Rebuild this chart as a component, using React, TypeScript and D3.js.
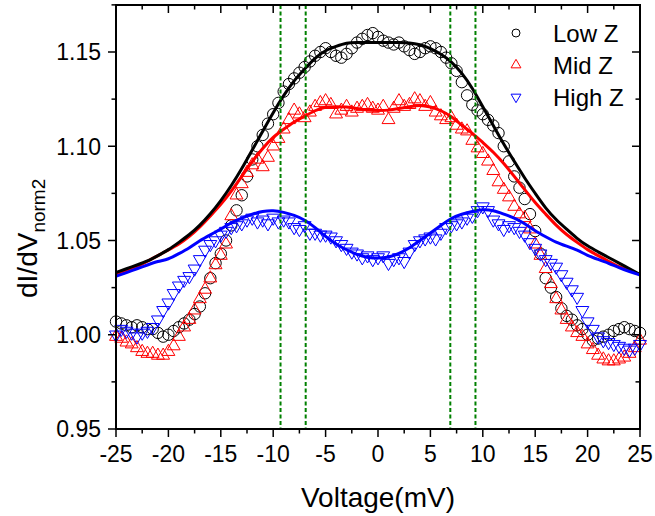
import React from 'react';
import * as d3 from 'd3';

// sample grid of the measured spectra (mV)
const voltages = [
  -25, -24.5, -24, -23.5, -23, -22.5, -22, -21.5, -21, -20.5, -20, -19.5, -19, -18.5, -18, -17.5, -17,
  -16.5, -16, -15.5, -15, -14.5, -14, -13.5, -13, -12.5, -12, -11.5, -11, -10.5, -10, -9.5, -9, -8.5,
  -8, -7.5, -7, -6.5, -6, -5.5, -5, -4.5, -4, -3.5, -3, -2.5, -2, -1.5, -1, -0.5, 0, 0.5, 1, 1.5, 2,
  2.5, 3, 3.5, 4, 4.5, 5, 5.5, 6, 6.5, 7, 7.5, 8, 8.5, 9, 9.5, 10, 10.5, 11, 11.5, 12, 12.5, 13, 13.5,
  14, 14.5, 15, 15.5, 16, 16.5, 17, 17.5, 18, 18.5, 19, 19.5, 20, 20.5, 21, 21.5, 22, 22.5, 23, 23.5,
  24, 24.5, 25,
];

const lowZ = [
  1.007, 1.006, 1.005, 1.004, 1.005, 1.004, 1.003, 1.003, 1.001, 0.999, 1.0, 1.002, 1.004, 1.006, 1.008,
  1.011, 1.015, 1.022, 1.03, 1.038, 1.043, 1.05, 1.058, 1.066, 1.074, 1.084, 1.093, 1.1, 1.106, 1.112,
  1.117, 1.123, 1.129, 1.133, 1.136, 1.139, 1.142, 1.145, 1.148, 1.15, 1.152, 1.15, 1.148, 1.147, 1.149,
  1.152, 1.155, 1.157, 1.159, 1.16, 1.158, 1.156, 1.155, 1.154, 1.155, 1.153, 1.151, 1.149, 1.15, 1.152,
  1.153, 1.152, 1.15, 1.147, 1.144, 1.14, 1.134, 1.127, 1.122, 1.119, 1.117, 1.114, 1.111, 1.107, 1.1,
  1.092, 1.084, 1.078, 1.072, 1.064, 1.055, 1.043, 1.03, 1.025, 1.02, 1.014, 1.01, 1.008, 1.005, 1.003,
  1.0, 0.997, 0.998, 0.999, 1.0, 1.002, 1.003, 1.004, 1.003, 1.002, 1.001,
];

const midZ = [
  0.999, 0.998, 0.996, 0.995, 0.993, 0.991, 0.99, 0.99, 0.989, 0.989, 0.991, 0.994, 0.999, 1.004, 1.008,
  1.013, 1.019, 1.024, 1.03, 1.037, 1.042, 1.048, 1.063, 1.074, 1.08, 1.086, 1.09, 1.093, 1.089, 1.094,
  1.1, 1.104, 1.109, 1.114, 1.119, 1.117, 1.115, 1.118, 1.121, 1.123, 1.124, 1.122, 1.117, 1.119, 1.121,
  1.118, 1.12, 1.121, 1.122, 1.12, 1.119, 1.121, 1.114, 1.12, 1.124, 1.121, 1.122, 1.125, 1.124, 1.121,
  1.123, 1.118, 1.116, 1.114, 1.115, 1.111, 1.109, 1.108, 1.103, 1.099, 1.096, 1.092, 1.087, 1.081, 1.077,
  1.073, 1.068, 1.064, 1.062, 1.056, 1.048, 1.042, 1.035, 1.027, 1.019, 1.013, 1.008, 1.004, 1.001, 0.999,
  0.995, 0.992, 0.989, 0.987, 0.986, 0.986, 0.987, 0.988, 0.99, 0.993, 0.997,
];

const highZ = [
  1.0, 1.003, 1.002, 1.001, 0.999, 1.001, 1.002, 1.004, 1.008, 1.013, 1.017, 1.022, 1.026, 1.029, 1.031,
  1.035, 1.04, 1.045, 1.048, 1.05, 1.053, 1.055, 1.057, 1.058, 1.059, 1.061, 1.062, 1.06, 1.061, 1.059,
  1.062, 1.06, 1.061, 1.06, 1.057, 1.056, 1.058, 1.054, 1.054, 1.053, 1.053, 1.052, 1.05, 1.048, 1.046,
  1.044, 1.043, 1.041, 1.042, 1.04, 1.041, 1.042, 1.038, 1.04, 1.041, 1.039, 1.044, 1.048, 1.05, 1.051,
  1.052, 1.051, 1.054, 1.057, 1.058, 1.059, 1.06, 1.062, 1.063, 1.066, 1.068, 1.066, 1.061, 1.059, 1.056,
  1.058, 1.057, 1.055, 1.053, 1.049, 1.046, 1.043, 1.04, 1.038, 1.036, 1.032, 1.028, 1.024, 1.02, 1.013,
  1.007, 1.003, 0.999, 0.997, 0.996, 0.995, 0.994, 0.993, 0.992, 0.993, 0.995,
];

// fit curves, 1 mV apart
const fitVoltages = [
  -25, -24, -23, -22, -21, -20, -19, -18, -17, -16, -15, -14, -13, -12, -11, -10, -9, -8, -7, -6, -5, -4,
  -3, -2, -1, 0, 1, 2, 3, 4, 5, 6, 7, 8, 9, 10, 11, 12, 13, 14, 15, 16, 17, 18, 19, 20, 21, 22, 23, 24, 25,
];

const lowFit = [
  1.033, 1.035, 1.037, 1.039, 1.042, 1.045, 1.049, 1.053, 1.058, 1.064, 1.071, 1.079, 1.088, 1.098, 1.108,
  1.118, 1.127, 1.135, 1.141, 1.147, 1.151, 1.153, 1.155, 1.155, 1.155, 1.155, 1.155, 1.155, 1.155, 1.154,
  1.152, 1.149, 1.145, 1.139, 1.131, 1.121, 1.111, 1.101, 1.092, 1.083, 1.075, 1.067, 1.061, 1.056, 1.051,
  1.047, 1.044, 1.041, 1.038, 1.035, 1.032,
];

const midFit = [
  1.032, 1.034, 1.036, 1.039, 1.042, 1.045, 1.048, 1.052, 1.057, 1.063, 1.069, 1.076, 1.084, 1.092, 1.099,
  1.105, 1.109, 1.113, 1.116, 1.119, 1.121, 1.121, 1.121, 1.12, 1.119, 1.119, 1.119, 1.12, 1.121, 1.122,
  1.121, 1.119, 1.116, 1.111, 1.107, 1.102, 1.097, 1.091, 1.084, 1.077, 1.07, 1.064, 1.058, 1.053, 1.049,
  1.045, 1.042, 1.039, 1.036, 1.034, 1.032,
];

const highFit = [
  1.031, 1.033, 1.035, 1.037, 1.039, 1.04, 1.043, 1.046, 1.05, 1.053, 1.056, 1.0595, 1.062, 1.064, 1.0655,
  1.066, 1.065, 1.0635, 1.061, 1.057, 1.052, 1.048, 1.045, 1.0425, 1.041, 1.0405, 1.041, 1.043, 1.046, 1.05,
  1.054, 1.058, 1.062, 1.064, 1.0655, 1.0665, 1.066, 1.064, 1.062, 1.059, 1.055, 1.052, 1.049, 1.047, 1.045,
  1.042, 1.04, 1.038, 1.0355, 1.0335, 1.0317,
];

const gapLines = [-9.3, -6.9, 6.9, 9.3];
const xTicks = [-25, -20, -15, -10, -5, 0, 5, 10, 15, 20, 25];
const yTicks = [0.95, 1.0, 1.05, 1.1, 1.15];
const legendLabels = ['Low Z', 'Mid Z', 'High Z'];

const W = 655;
const H = 516;
const left = 116;
const right = 640;
const top = 5;
const bottom = 429;
const FONT = '"Liberation Sans", Arial, sans-serif';

const x = d3.scaleLinear().domain([-25, 25]).range([left, right]);
const y = d3.scaleLinear().domain([0.95, 1.15]).range([bottom, 52]);

const triUp = d3.symbol().type(d3.symbolTriangle).size(72)() as string;
const triUpSmall = d3.symbol().type(d3.symbolTriangle).size(42)() as string;

function fitPath(vals: number[]) {
  const l = d3
    .line<number>()
    .x((_, i) => x(fitVoltages[i]))
    .y((d) => y(d))
    .curve(d3.curveBasis);
  return l(vals) || '';
}

export default function App() {
  const minorX = d3.range(-25, 25.01, 2.5);
  const minorY = d3.range(0.95, 1.176, 0.025);

  return (
    <svg
      width={W}
      height={H}
      style={{ position: 'absolute', left: 0, top: 0, background: '#fff' }}
      fontFamily={FONT}
    >
      {/* scatter: low Z */}
      <g fill="none" stroke="#000" strokeWidth={1}>
        {lowZ.map((v, i) => (
          <circle key={i} cx={x(voltages[i])} cy={y(v)} r={5.7} />
        ))}
      </g>
      <g fill="none" stroke="#ff0000" strokeWidth={1}>
        {midZ.map((v, i) => (
          <path key={i} d={triUp} transform={`translate(${x(voltages[i])},${y(v)})`} />
        ))}
      </g>
      <g fill="none" stroke="#0000ff" strokeWidth={1}>
        {highZ.map((v, i) => (
          <path key={i} d={triUp} transform={`translate(${x(voltages[i])},${y(v)}) rotate(180)`} />
        ))}
      </g>

      {/* fits */}
      <path d={fitPath(midFit)} fill="none" stroke="#ff0000" strokeWidth={3} />
      <path d={fitPath(lowFit)} fill="none" stroke="#000" strokeWidth={3} />
      <path d={fitPath(highFit)} fill="none" stroke="#0000ff" strokeWidth={3} />

      {/* gap markers */}
      {gapLines.map((g) => (
        <line
          key={g}
          x1={x(g)}
          x2={x(g)}
          y1={top}
          y2={bottom}
          stroke="#008000"
          strokeWidth={2}
          strokeDasharray="4,2.5"
        />
      ))}

      {/* frame */}
      <rect x={left} y={top} width={right - left} height={bottom - top} fill="none" stroke="#000" strokeWidth={2} />

      {/* x ticks */}
      {minorX.map((t) => {
        const major = Math.abs(t % 5) < 1e-6;
        const len = major ? 8 : 4.5;
        return (
          <g key={t} stroke="#000" strokeWidth={1.5}>
            <line x1={x(t)} x2={x(t)} y1={bottom} y2={bottom + len} />
            <line x1={x(t)} x2={x(t)} y1={top} y2={top + len} />
          </g>
        );
      })}
      {/* y ticks */}
      {minorY.map((t, i) => {
        const major = i % 2 === 0;
        const len = major ? 8 : 4.5;
        return (
          <g key={t} stroke="#000" strokeWidth={1.5}>
            <line x1={left} x2={left - len} y1={y(t)} y2={y(t)} />
            <line x1={right} x2={right - len} y1={y(t)} y2={y(t)} />
          </g>
        );
      })}

      {xTicks.map((t) => (
        <text key={t} x={x(t)} y={462} fontSize={23} textAnchor="middle" fill="#000">
          {t}
        </text>
      ))}
      {yTicks.map((t) => (
        <text key={t} x={101} y={y(t) + 8.3} fontSize={23} textAnchor="end" fill="#000">
          {t.toFixed(2)}
        </text>
      ))}

      <text x={378} y={507} fontSize={28} textAnchor="middle" fill="#000">
        Voltage(mV)
      </text>
      <text transform="translate(37,298) rotate(-90)" fontSize={28} fill="#000">
        dI/dV
        <tspan fontSize={19} dy={8}>
          norm2
        </tspan>
      </text>

      {/* legend */}
      <g>
        <circle cx={516} cy={33} r={4} fill="none" stroke="#000" strokeWidth={1} />
        <path d={triUpSmall} transform="translate(516,65)" fill="none" stroke="#ff0000" strokeWidth={1} />
        <path d={triUpSmall} transform="translate(516,97) rotate(180)" fill="none" stroke="#0000ff" strokeWidth={1} />
        {legendLabels.map((l, i) => (
          <text key={l} x={553} y={33 + i * 32 + 9} fontSize={24} fill="#000">
            {l}
          </text>
        ))}
      </g>
    </svg>
  );
}
